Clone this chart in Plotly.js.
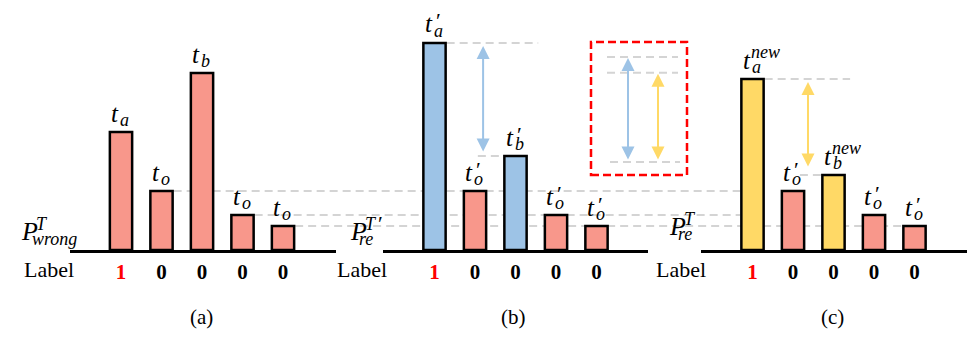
<!DOCTYPE html>
<html>
<head>
<meta charset="utf-8">
<script src="https://cdn.plot.ly/plotly-3.0.1.min.js"></script>
<style>body{margin:0;background:#fff}#chart{width:968px;height:343px}</style>
</head>
<body>
<div id="chart"></div>
<script>
// bar heights, same arbitrary unit in all three panels (0 = baseline)
const scoresA=[5.9,2.95,8.85,1.75,1.2]
const scoresB=[10.35,2.95,4.7,1.75,1.2]
const scoresC=[8.55,2.95,3.75,1.75,1.2]
const tickLabels=['1','0','0','0','0']
const barSubs=['a','o','b','o','o']
const supsA=['','','','','']
const supsB=['′','′','′','′','′']
const supsC=['new','′','new','′','′']
const panelNames=['(a)','(b)','(c)']
const rowName='Label'
const threshSubs=['wrong','re','re']
const threshSups=['T','T','T']
const threshPrimes=['','′','']

const W=968,H=343
const slot=40.5
const pxPerUnit=20
const pink='#F8978B',blue='#9DC3E6',yellow='#FFD966'
const grey='#d4d4d4'
const serif='"Liberation Serif", "Times New Roman", Times, serif'

const panels=[
    {dom:[70,336],first:121,scores:scoresA,sups:supsA,accent:pink},
    {dom:[383,648],first:434.5,scores:scoresB,sups:supsB,accent:blue},
    {dom:[701,967],first:752.5,scores:scoresC,sups:supsC,accent:yellow}
]
panels.forEach(p=>{
    p.r0=-(p.first-p.dom[0])/slot
    p.range=[p.r0,p.r0+(p.dom[1]-p.dom[0])/slot]
})
// paper x of a bar position (axis units) in panel k
let paperX=(k,v)=>(panels[k].first+v*slot)/W
let px=v=>v/W
let py=v=>1-v/H
const halfBar=0.3

let traces=[]
let layout={
    width:W,height:H,
    margin:{l:0,r:0,t:0,b:0},
    paper_bgcolor:'#fff',plot_bgcolor:'rgba(0,0,0,0)',
    showlegend:false,
    font:{family:serif},
    yaxis:{range:[0,12],domain:[93/H,(93+12*pxPerUnit)/H],visible:false,fixedrange:true},
    annotations:[],
    shapes:[]
}

panels.forEach((p,k)=>{
    let ax=k==0?'x':'x'+(k+1)
    let axName=k==0?'xaxis':'xaxis'+(k+1)
    traces.push({
        type:'bar',
        x:p.scores.map((_,i)=>i),
        y:p.scores,
        xaxis:ax,yaxis:'y',
        width:0.55,
        marker:{
            color:p.scores.map((_,i)=>(i==0||i==2)?p.accent:pink),
            line:{color:'#000',width:2.5}
        },
        hoverinfo:'skip'
    })
    layout[axName]={
        domain:[px(p.dom[0]),px(p.dom[1])],
        range:p.range,
        anchor:'y',
        showline:true,linecolor:'#000',linewidth:2.5,
        showgrid:false,zeroline:false,ticks:'',
        tickvals:tickLabels.map((_,i)=>i),
        ticktext:tickLabels.map(t=>t=='1'?`<b><span style="color:#ff0000">${t}</span></b>`:`<b>${t}</b>`),
        tickfont:{family:serif,size:21,color:'#000'},
        ticklabelstandoff:1,
        fixedrange:true
    }
    // bar labels t with sub/superscripts
    p.scores.forEach((s,i)=>{
        let common={xref:ax,yref:'y',x:i,y:s,showarrow:false,xanchor:'left',yanchor:'middle'}
        let prime=p.sups[i]=='′'
        layout.annotations.push(Object.assign({},common,{text:'<i>t</i>',font:{family:serif,size:25,color:'#000'},xshift:-12,yshift:19}))
        layout.annotations.push(Object.assign({},common,{text:'<i>'+barSubs[i]+'</i>',font:{family:serif,size:18,color:'#000'},xshift:-3,yshift:12}))
        if(prime){
            layout.annotations.push(Object.assign({},common,{text:'′',font:{family:serif,size:22,color:'#000'},xshift:-1,yshift:22}))
        }else if(p.sups[i]){
            layout.annotations.push(Object.assign({},common,{text:'<i>'+p.sups[i]+'</i>',font:{family:serif,size:18,color:'#000'},xshift:-4,yshift:27}))
        }
    })
    // Label row and panel name
    let labX=[49,362,681][k]
    layout.annotations.push({xref:'paper',yref:'paper',x:px(labX),y:py(269),text:rowName,showarrow:false,
        font:{family:serif,size:22,color:'#000'},xanchor:'center',yanchor:'middle'})
    layout.annotations.push({xref:'paper',yref:'paper',x:px((p.dom[0]+p.dom[1])/2-2),y:py(317),text:panelNames[k],showarrow:false,
        font:{family:serif,size:21,color:'#000'},xanchor:'center',yanchor:'middle'})
})

// threshold labels P^T
const pPos=[{x:19,y:231},{x:348,y:231},{x:667,y:226}]
pPos.forEach((q,k)=>{
    let f=(t,size,dx,dy)=>layout.annotations.push({xref:'paper',yref:'paper',x:px(q.x+dx),y:py(q.y+dy),text:t,showarrow:false,
        font:{family:serif,size:size,color:'#000'},xanchor:'left',yanchor:'middle'})
    f('<i>P</i>',26,0,0)
    f('<i>'+threshSups[k]+'</i>',18,15,-7)
    f('<i>'+threshSubs[k]+'</i>',18,k==0?11:9,8)
    if(threshPrimes[k]) f(threshPrimes[k],22,28,-8)
})

// dashed guide lines (drawn behind bars)
let hline=(x0,x1,y,xref,yref)=>layout.shapes.push({type:'line',layer:'below',xref:xref||'paper',yref:yref||'y',
    x0:x0,x1:x1,y0:y,y1:y,line:{color:grey,width:2,dash:'8px,5px'}})
// t_o levels of panel (a) carried across to panel (c)
hline(paperX(0,1+halfBar),paperX(2,0-halfBar),scoresA[1])
hline(paperX(0,3+halfBar),paperX(2,0-halfBar),scoresA[3])
hline(paperX(0,4+halfBar),paperX(2,4-halfBar),scoresA[4])
// gap guides in (b) and (c)
hline(0+halfBar,2.56,scoresB[0],'x2')
hline(1.07,2-halfBar,scoresB[2],'x2')
hline(0+halfBar,2.41,scoresC[0],'x3')
hline(1.17,2-halfBar,scoresC[2],'x3')

let arrow=(xref,x,yTop,yBot,color)=>layout.annotations.push({xref:xref,yref:'y',x:x,y:yTop,axref:xref,ayref:'y',ax:x,ay:yBot,
    text:'',showarrow:true,arrowside:'end+start',arrowhead:2,startarrowhead:2,arrowsize:1.3,startarrowsize:1.3,arrowwidth:2,arrowcolor:color})
arrow('x2',1.2,scoresB[0]-3/pxPerUnit,scoresB[2]+3/pxPerUnit,blue)
arrow('x3',1.37,scoresC[0]-3/pxPerUnit,scoresC[2]+7/pxPerUnit,yellow)

// inset: both gaps on a common base, scaled down a little
const insetBase=4.4,insetScale=0.93
let gapB=scoresB[0]-scoresB[2],gapC=scoresC[0]-scoresC[2]
hline(px(607),px(678),insetBase+insetScale*gapB)
hline(px(607),px(678),insetBase+insetScale*gapC)
hline(px(610),px(680),insetBase)
arrow('paper',px(628),insetBase+insetScale*gapB-1/pxPerUnit,insetBase+1/pxPerUnit,blue)
arrow('paper',px(658),insetBase+insetScale*gapC-1/pxPerUnit,insetBase+1/pxPerUnit,yellow)
layout.shapes.push({type:'rect',xref:'paper',yref:'paper',x0:px(591),x1:px(687),y0:py(175),y1:py(42),
    line:{color:'#ff0000',width:2.5,dash:'8px,4px'}})

Plotly.newPlot('chart',traces,layout,{displayModeBar:false,staticPlot:true})
</script>
</body>
</html>
